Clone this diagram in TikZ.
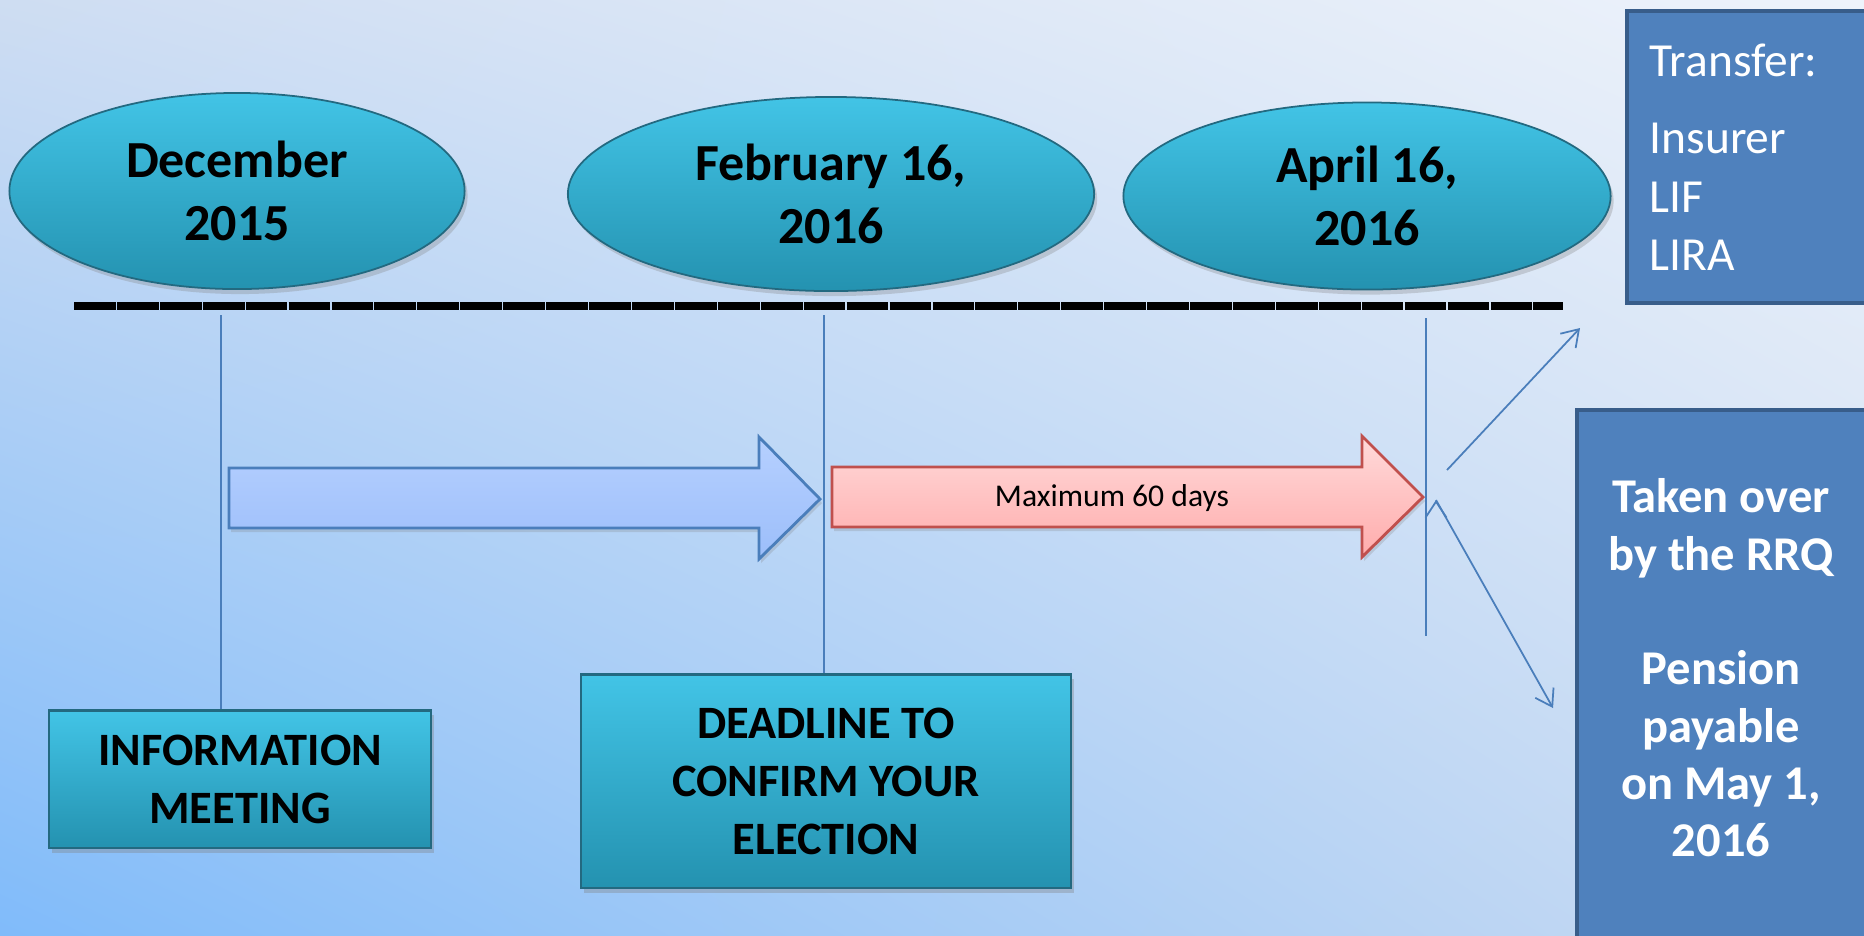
\documentclass[tikz,border=0pt]{standalone}
\usepackage{fontspec}
\setmainfont{Carlito}
\usetikzlibrary{shapes.geometric,shadows,shadings,arrows.meta}

\definecolor{tealTop}{RGB}{66,196,230}
\definecolor{tealBottom}{RGB}{36,146,176}
\definecolor{tealEdge}{RGB}{35,105,128}
\definecolor{lineBlue}{RGB}{74,126,187}
\definecolor{shaftTop}{RGB}{182,208,255}
\definecolor{shaftBottom}{RGB}{156,190,250}
\definecolor{limitTop}{RGB}{255,218,218}
\definecolor{limitBottom}{RGB}{255,172,172}
\definecolor{limitEdge}{RGB}{192,80,77}
\definecolor{rrqBlue}{RGB}{79,129,189}
\definecolor{rrqEdge}{RGB}{56,93,138}

\tikzset{
  datebubble/.style={ellipse, draw=tealEdge, line width=0.5pt,
    top color=tealTop, bottom color=tealBottom, inner sep=0pt, align=center,
    font=\fontsize{14.8}{17.9}\selectfont\bfseries,
    drop shadow={opacity=0.3,shadow xshift=0.03cm,shadow yshift=-0.05cm}},
  eventbox/.style={rectangle, draw=tealEdge, line width=0.6pt,
    top color=tealTop, bottom color=tealBottom, inner sep=0pt, align=center,
    font=\fontsize{13.2}{16.5}\selectfont\bfseries,
    drop shadow={opacity=0.35,shadow xshift=0.03cm,shadow yshift=-0.05cm}},
  outcome/.style={rectangle, draw=rrqEdge, line width=1.2pt, fill=rrqBlue,
    text=white, inner sep=0pt},
  marker/.style={draw=lineBlue, line width=0.5pt},
  branch/.style={draw=lineBlue, line width=0.5pt,
    -{Straight Barb[length=1.6mm,width=2.1mm]}},
  fatarrow/.style={line width=0.8pt,
    drop shadow={opacity=0.25,shadow xshift=0.02cm,shadow yshift=-0.04cm}},
  timeline/.style={line width=0.087cm, dash pattern=on 0.417cm off 0.012cm}
}

\begin{document}
\begin{tikzpicture}[x=0.01cm,y=-0.01cm]
\useasboundingbox (0,0) rectangle (1864,935);
\shade[upper left={rgb,255:red,206;green,221;blue,242},
       upper right={rgb,255:red,238;green,243;blue,251},
       lower left={rgb,255:red,128;green,187;blue,250},
       lower right={rgb,255:red,202;green,219;blue,241}]
  (0,0) rectangle (1864,935);

\coordinate(start) at (74,306);
\coordinate(end)   at (1563,306);
\draw[timeline] (start) -- (end);

\node(dec) at (237,191)[datebubble, minimum width=4.55cm, minimum height=1.96cm] {December\\2015};
\node(feb) at (831,194)[datebubble, minimum width=5.26cm, minimum height=1.94cm] {February 16,\\2016};
\node(apr) at (1367,196)[datebubble, minimum width=4.87cm, minimum height=1.87cm] {April 16,\\2016};

\node(info)     at (240,779)[eventbox, minimum width=3.81cm, minimum height=1.37cm] {INFORMATION\\MEETING};
\node(deadline) at (826,781)[eventbox, minimum width=4.89cm, minimum height=2.13cm] {DEADLINE TO\\CONFIRM YOUR\\ELECTION};

\path[fatarrow, draw=lineBlue, top color=shaftTop, bottom color=shaftBottom]
  (229,468) -- (759,468) -- (759,437) -- (820,499) -- (759,559) -- (759,528) -- (229,528) -- cycle;
\path[fatarrow, draw=limitEdge, top color=limitTop, bottom color=limitBottom]
  (832,467) -- (1362,467) -- (1362,436) -- (1423,497) -- (1362,557) -- (1362,527) -- (832,527) -- cycle;
\node(maxdays) at (1112,498)[font=\fontsize{9}{11}\selectfont] {Maximum 60 days};

\node(transfer) at (1625,9)[outcome, anchor=north west, minimum width=2.6cm, minimum height=2.92cm,
  text width=2.15cm, inner xsep=0.2cm, align=left, font=\fontsize{13.5}{16.5}\selectfont]
  {Transfer:\\[0.19cm]Insurer\\LIF\\LIRA};
\node(rrq) at (1575,408)[outcome, anchor=north west, minimum width=3.2cm, minimum height=6cm] {};
\node(rrqtext) at (1721,668)[text=white, align=center, font=\fontsize{13.8}{16.3}\selectfont\bfseries]
  {Taken over\\by the RRQ\\[16.3pt]Pension\\payable\\on May 1,\\2016};

\coordinate(m1)  at (221,315);
\coordinate(m2)  at (824,315);
\coordinate(m3)  at (1426,318);
\coordinate(m3b) at (1426,636);
\coordinate(up0) at (1447,470);
\coordinate(up1) at (1580,328);
\coordinate(dn0) at (1436,500);
\coordinate(dn1) at (1553,708);

\path[marker]
  (m1)  edge  (m1 |- info.north)
  (m2)  edge  (m2 |- deadline.north)
  (m3)  edge  (m3b);

\path[branch]
  (up0) edge  (up1)
  (dn0) edge  (dn1);

\end{tikzpicture}
\end{document}
